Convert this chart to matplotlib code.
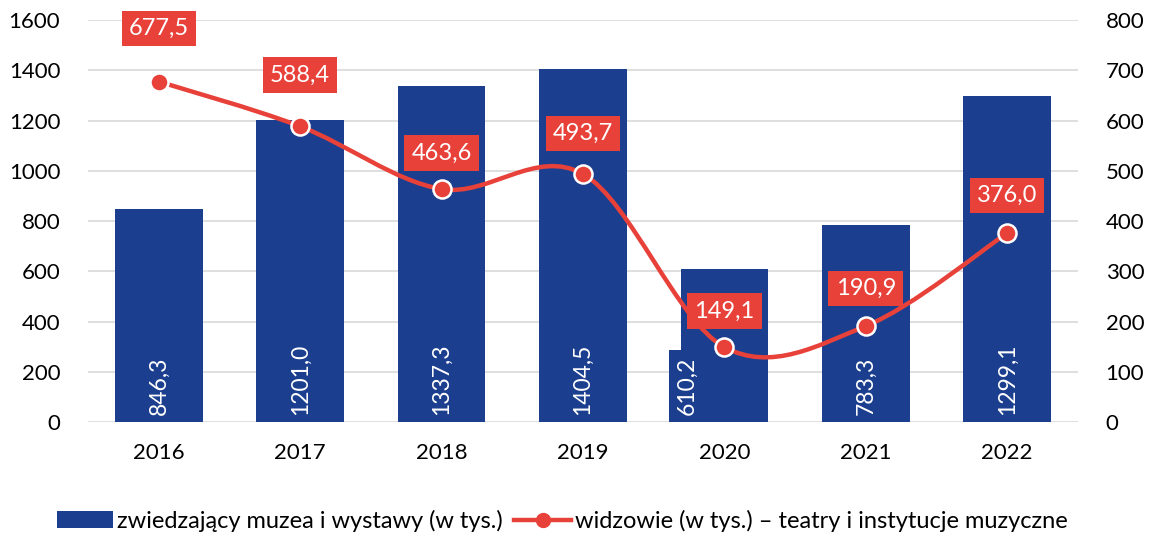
import matplotlib
matplotlib.use("Agg")
import matplotlib.pyplot as plt
import numpy as np
from matplotlib.path import Path
from matplotlib.patches import PathPatch, Patch
from matplotlib.lines import Line2D

years = ["2016", "2017", "2018", "2019", "2020", "2021", "2022"]
museum_visitors = [846.3, 1201.0, 1337.3, 1404.5, 610.2, 783.3, 1299.1]
theatre_viewers = [677.5, 588.4, 463.6, 493.7, 149.1, 190.9, 376.0]
left_ticks = [0, 200, 400, 600, 800, 1000, 1200, 1400, 1600]
right_ticks = [0, 100, 200, 300, 400, 500, 600, 700, 800]
legend_labels = ["zwiedzający muzea i wystawy (w tys.)",
                 "widzowie (w tys.) – teatry i instytucje muzyczne"]

BLUE = "#1B3F8E"
RED = "#E8413A"
GRID = "#D9D9D9"
FONT = "Lato"
plt.rcParams["font.family"] = [FONT, "DejaVu Sans"]

fig = plt.figure(figsize=(11.54, 5.38), dpi=100)
ax = fig.add_axes([0.0763, 0.2156, 0.8577, 0.7472])
ax2 = ax.twinx()

x = np.arange(len(years))
bars = ax.bar(x, museum_visitors, width=0.62, color=BLUE, zorder=2)
ax.set_xlim(-0.5, len(years) - 0.5)
ax.set_ylim(0, 1600)
ax.set_yticks(left_ticks)
ax.set_yticklabels([str(t) for t in left_ticks])
ax.set_xticks(x)
ax.set_xticklabels(years)
ax.grid(axis="y", color=GRID, linewidth=1.2, zorder=0)
ax.set_axisbelow(True)
for s in ax.spines.values():
    s.set_visible(False)
for s in ax2.spines.values():
    s.set_visible(False)
ax.tick_params(axis="both", length=0, labelsize=16, colors="black")
ax.tick_params(axis="x", pad=15)
ax.tick_params(axis="y", pad=20)

ax2.set_ylim(0, 800)
ax2.set_yticks(right_ticks)
ax2.set_yticklabels([str(t) for t in right_ticks])
ax2.tick_params(axis="y", length=0, labelsize=16, pad=20)

# bar labels
for i, v in enumerate(museum_visitors):
    label = f"{v:.1f}".replace(".", ",")
    if i == 4:
        ax.annotate(label, (x[i], 0), xytext=(-27, 5), textcoords="offset points",
                    rotation=90, ha="center", va="bottom", color="white", fontsize=16.5,
                    bbox=dict(boxstyle="square,pad=0.3", fc=BLUE, ec="none"), zorder=3)
    else:
        ax.annotate(label, (x[i], 0), xytext=(0, 5), textcoords="offset points",
                    rotation=90, ha="center", va="bottom", color="white", fontsize=16.5, zorder=3)

# smooth line (Catmull-Rom -> cubic Bezier)
pts = np.column_stack([x.astype(float), np.array(theatre_viewers)])
verts = [tuple(pts[0])]
codes = [Path.MOVETO]
n = len(pts)
for i in range(n - 1):
    p0 = pts[i - 1] if i > 0 else pts[i]
    p1 = pts[i]
    p2 = pts[i + 1]
    p3 = pts[i + 2] if i + 2 < n else pts[i + 1]
    c1 = p1 + (p2 - p0) / 6.0
    c2 = p2 - (p3 - p1) / 6.0
    verts += [tuple(c1), tuple(c2), tuple(p2)]
    codes += [Path.CURVE4] * 3
ax2.add_patch(PathPatch(Path(verts, codes), fc="none", ec=RED, lw=3.2,
                        capstyle="round", zorder=4))
ax2.plot(x, theatre_viewers, linestyle="none", marker="o", markersize=13,
         markerfacecolor=RED, markeredgecolor="white", markeredgewidth=1.8, zorder=5)

offsets = [38, 37, 26, 29, 26, 27, 27]
for i, v in enumerate(theatre_viewers):
    label = f"{v:.1f}".replace(".", ",")
    ax2.annotate(label, (x[i], v), xytext=(0, offsets[i]), textcoords="offset points",
                 ha="center", va="center", color="white", fontsize=17, zorder=6,
                 bbox=dict(boxstyle="square,pad=0.3", fc=RED, ec="none"))

handles = [Patch(facecolor=BLUE, edgecolor="none"),
           Line2D([0], [0], color=RED, lw=3.2, marker="o", markersize=10,
                  markerfacecolor=RED, markeredgecolor=RED)]
fig.legend(handles, legend_labels, loc="center", bbox_to_anchor=(0.487, 0.032),
           ncol=2, frameon=False, fontsize=17, handlelength=2.4, handletextpad=0.15,
           columnspacing=0.5)

fig.savefig("out.png", dpi=100)
